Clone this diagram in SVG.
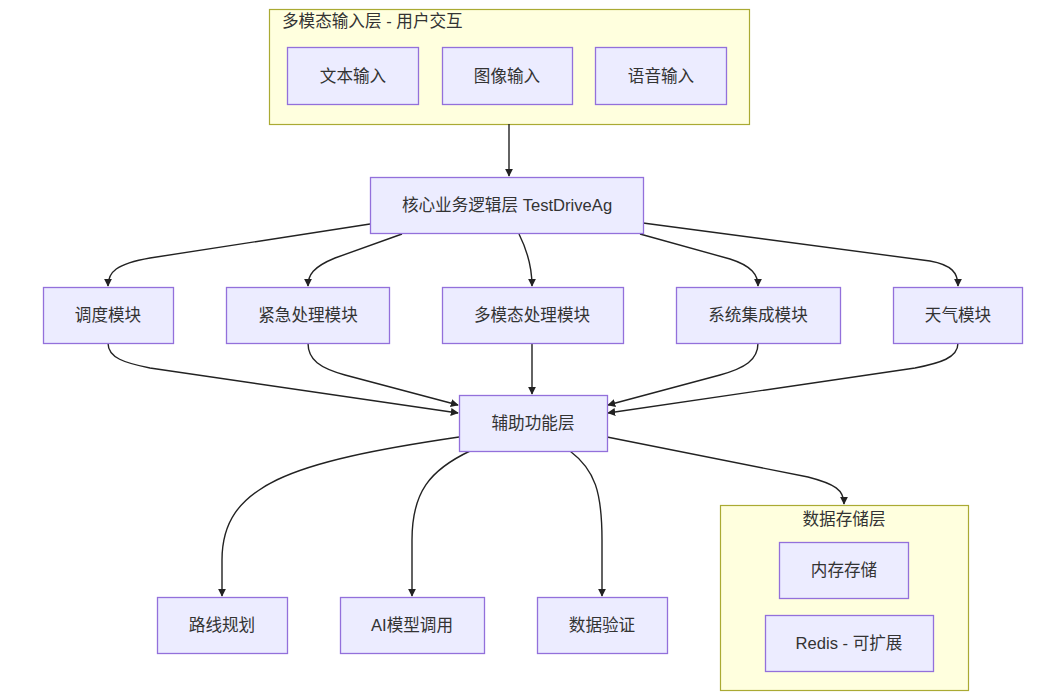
<svg xmlns="http://www.w3.org/2000/svg" width="1053" height="697" viewBox="0 0 1053 697">
<style>
.cluster{fill:#ffffde;stroke:#aaaa33;stroke-width:1.2}
.node rect{fill:#ECECFF;stroke:#9370DB;stroke-width:1.3}
text{font-family:"Liberation Sans","Noto Sans CJK SC",sans-serif;font-size:16.6px;fill:#333}
.lbl{text-anchor:middle;dominant-baseline:central}
.edge{fill:none;stroke:#222;stroke-width:1.4;marker-end:url(#arr)}
</style>
<defs>
<marker id="arr" viewBox="0 0 10 10" refX="9" refY="5" markerWidth="8" markerHeight="8" markerUnits="userSpaceOnUse" orient="auto">
<path d="M0,0 L10,5 L0,10 z" fill="#222"/>
</marker>
</defs>
<rect width="1053" height="697" fill="#ffffff"/>

<g id="cluster-input">
<rect class="cluster" x="269.5" y="9.5" width="480" height="115"/>
<text x="282" y="21" dominant-baseline="central">多模态输入层 - 用户交互</text>
</g>
<g id="cluster-storage">
<rect class="cluster" x="720.5" y="505.5" width="248" height="185"/>
<text class="lbl" x="844" y="519">数据存储层</text>
</g>

<g id="edges">
<path class="edge" d="M509,124 L509,176"/>
<path class="edge" d="M370,224 L150,258 C116,264 108,272 108,286"/>
<path class="edge" d="M402,234 L335,258 C313,267 308,275 308,286"/>
<path class="edge" d="M519,234 C527,250 532,266 532,286"/>
<path class="edge" d="M640,234 L730,259 C752,266 758,275 758,286"/>
<path class="edge" d="M643,223 L930,261 C952,265 958,273 958,286"/>
<path class="edge" d="M108,343 C108,358 125,363 150,368 L458,413"/>
<path class="edge" d="M308,343 C308,360 320,368 345,375 L458,405"/>
<path class="edge" d="M532,343 L532,394"/>
<path class="edge" d="M758,343 C758,360 745,368 720,375 L608,405"/>
<path class="edge" d="M958,343 C958,358 940,363 915,368 L608,413"/>
<path class="edge" d="M459,437 C290,462 222,485 222,560 L222,596"/>
<path class="edge" d="M470,451 C430,470 412,492 412,540 L412,596"/>
<path class="edge" d="M570,451 C595,470 602,492 602,540 L602,596"/>
<path class="edge" d="M607,437 L808,477 C835,484 844,490 844,504"/>
</g>

<g id="n-text" class="node"><rect x="287.5" y="47.5" width="131" height="57"/><text class="lbl" x="353" y="76">文本输入</text></g>
<g id="n-image" class="node"><rect x="442.5" y="47.5" width="130" height="57"/><text class="lbl" x="507" y="76">图像输入</text></g>
<g id="n-voice" class="node"><rect x="595.5" y="47.5" width="131" height="57"/><text class="lbl" x="661" y="76">语音输入</text></g>

<g id="n-core" class="node"><rect x="370.5" y="177.5" width="273" height="56"/><text class="lbl" x="507" y="205">核心业务逻辑层 TestDriveAg</text></g>

<g id="n-dispatch" class="node"><rect x="43.5" y="287.5" width="130" height="56"/><text class="lbl" x="108" y="315">调度模块</text></g>
<g id="n-emergency" class="node"><rect x="226.5" y="287.5" width="163" height="56"/><text class="lbl" x="308" y="315">紧急处理模块</text></g>
<g id="n-multimodal" class="node"><rect x="442.5" y="287.5" width="181" height="56"/><text class="lbl" x="532" y="315">多模态处理模块</text></g>
<g id="n-integration" class="node"><rect x="676.5" y="287.5" width="164" height="56"/><text class="lbl" x="758" y="315">系统集成模块</text></g>
<g id="n-weather" class="node"><rect x="893.5" y="287.5" width="129" height="56"/><text class="lbl" x="958" y="315">天气模块</text></g>

<g id="n-aux" class="node"><rect x="459.5" y="395.5" width="148" height="56"/><text class="lbl" x="533" y="423">辅助功能层</text></g>

<g id="n-route" class="node"><rect x="157.5" y="597.5" width="130" height="56"/><text class="lbl" x="222" y="625">路线规划</text></g>
<g id="n-ai" class="node"><rect x="340.5" y="597.5" width="144" height="56"/><text class="lbl" x="412" y="625">AI模型调用</text></g>
<g id="n-validate" class="node"><rect x="537.5" y="597.5" width="130" height="56"/><text class="lbl" x="602" y="625">数据验证</text></g>

<g id="n-memory" class="node"><rect x="779.5" y="542.5" width="129" height="56"/><text class="lbl" x="844" y="570">内存存储</text></g>
<g id="n-redis" class="node"><rect x="765.5" y="615.5" width="168" height="56"/><text class="lbl" x="849" y="643">Redis - 可扩展</text></g>
</svg>
